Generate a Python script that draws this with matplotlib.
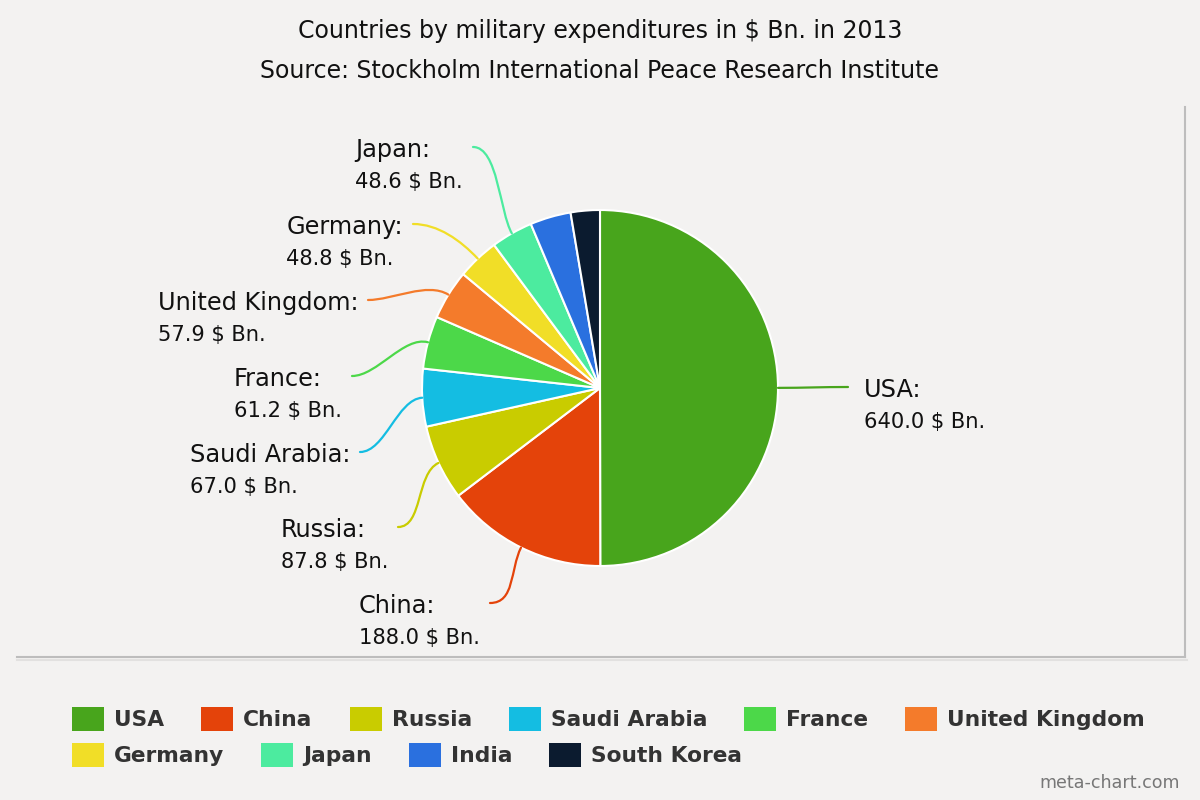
import matplotlib
matplotlib.use('Agg')
import matplotlib.pyplot as plt
from matplotlib.path import Path
from matplotlib.patches import PathPatch, Rectangle
from matplotlib.lines import Line2D
import numpy as np

# ---- data ----
countries = ['USA', 'China', 'Russia', 'Saudi Arabia', 'France',
             'United Kingdom', 'Germany', 'Japan', 'India', 'South Korea']
spending = [640.0, 188.0, 87.8, 67.0, 61.2, 57.9, 48.8, 48.6, 47.4, 33.9]
colors = ['#48a51c', '#e4430a', '#c9cc00', '#14bde2', '#4cd849',
          '#f47b2b', '#f1de27', '#4ceb9f', '#2a70df', '#0b1b2f']
title_lines = ['Countries by military expenditures in $ Bn. in 2013',
               'Source: Stockholm International Peace Research Institute']

# ---- layout (pixel positions of label anchors, from top-left) ----
label_anchor = {'USA': (848, 387), 'China': (490, 603), 'Russia': (398, 527),
                'Saudi Arabia': (360, 452), 'France': (352, 376),
                'United Kingdom': (368, 300), 'Germany': (413, 224),
                'Japan': (473, 147)}

W, H = 1200, 800
BG = '#f3f2f1'
fig = plt.figure(figsize=(12, 8), dpi=100)
fig.patch.set_facecolor(BG)
ax = fig.add_axes([0, 0, 1, 1])
ax.set_facecolor(BG)

CX, CY, R = 600, H - 388, 178
wedges, _ = ax.pie(spending, colors=colors, startangle=90, counterclock=False,
                   center=(CX, CY), radius=R, frame=True,
                   wedgeprops=dict(edgecolor='white', linewidth=1.5))
ax.set_xlim(0, W)
ax.set_ylim(0, H)
ax.set_aspect('auto')
ax.axis('off')

renderer = fig.canvas.get_renderer()

# panel frame shadow
ax.add_line(Line2D([1185, 1185], [H - 107, H - 657], color='#bdbdbd', lw=1.5))
ax.add_line(Line2D([17, 1185], [H - 657, H - 657], color='#bdbdbd', lw=1.5))
ax.add_line(Line2D([17, 1187], [H - 660, H - 660], color='#e2e1e0', lw=1.5))

# titles
ax.text(600, H - 31, title_lines[0], ha='center', va='center', fontsize=17, color='#111111')
ax.text(600, H - 71, title_lines[1], ha='center', va='center', fontsize=17, color='#111111')

# data labels with leader curves
for w, name, val, col in zip(wedges, countries, spending, colors):
    if name not in label_anchor:
        continue
    th = np.deg2rad((w.theta1 + w.theta2) / 2)
    p0 = (CX + R * np.cos(th), CY + R * np.sin(th))
    p1 = (CX + (R + 25) * np.cos(th), CY + (R + 25) * np.sin(th))
    ex, ey = label_anchor[name]
    ey = H - ey
    side = 1 if ex > CX else -1
    p2 = (ex - side * 25, ey)
    path = Path([p0, p1, p2, (ex, ey)],
                [Path.MOVETO, Path.CURVE4, Path.CURVE4, Path.CURVE4])
    ax.add_patch(PathPatch(path, fc='none', ec=col, lw=1.6, capstyle='round'))

    t1 = ax.text(0, ey - 10, name + ':', fontsize=17.3, color='#111111', va='baseline', ha='left')
    t2 = ax.text(0, ey - 41, f'{val:.1f} $ Bn.', fontsize=15.1, color='#111111', va='baseline', ha='left')
    w1 = t1.get_window_extent(renderer).width
    w2 = t2.get_window_extent(renderer).width
    left = ex + 16 if side > 0 else ex - 10 - max(w1, w2)
    t1.set_x(left)
    t2.set_x(left)

# legend (flow layout)
x = 72
row_y = [719, 755]
row = 0
for name, col in zip(countries, colors):
    t = ax.text(0, 0, name, fontsize=15.7, fontweight='bold', color='#333333',
                ha='left', va='center')
    tw = t.get_window_extent(renderer).width
    if x + 42 + tw > 1175:
        row += 1
        x = 72
    yc = H - row_y[row]
    ax.add_patch(Rectangle((x, yc - 12), 32, 24, facecolor=col, edgecolor='none'))
    t.set_position((x + 42, yc - 1))
    x = x + 42 + tw + 37

ax.text(1180, H - 783, 'meta-chart.com', ha='right', va='center', fontsize=12.6, color='#777777')

fig.savefig('out.png', dpi=100, facecolor=BG)
